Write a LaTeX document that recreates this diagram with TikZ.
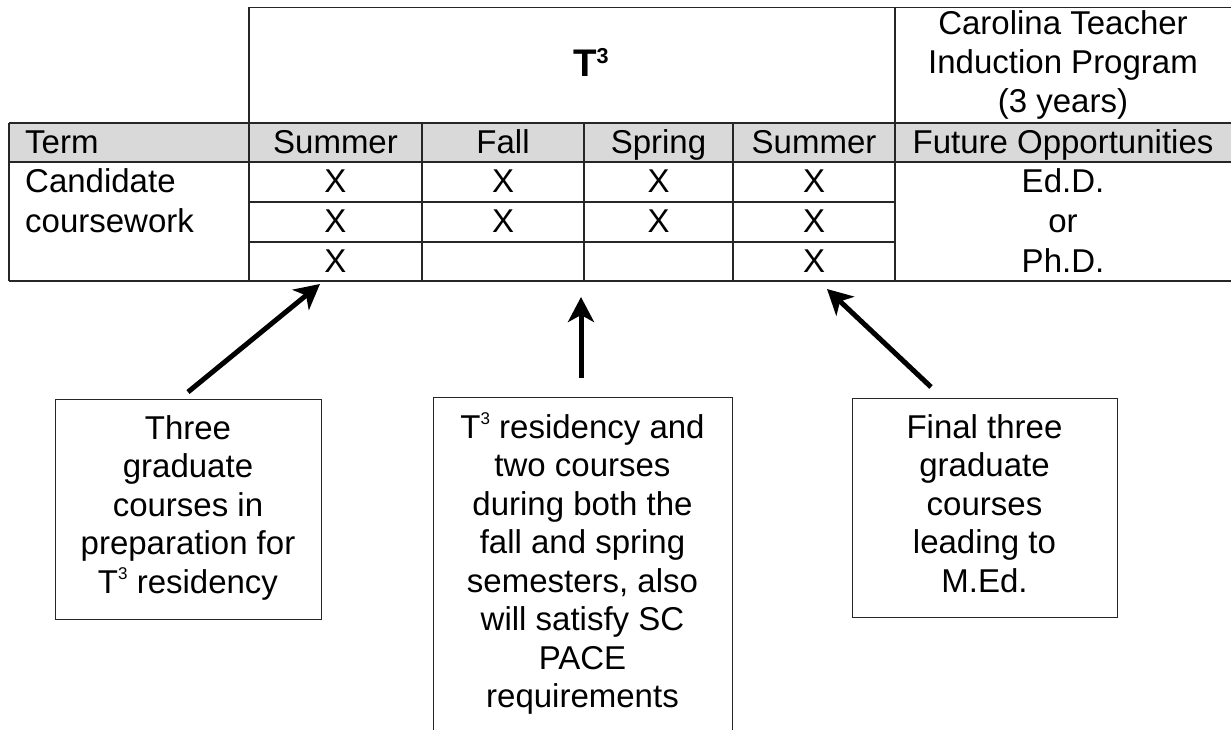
\documentclass[tikz,border=0pt]{standalone}
\usepackage{fontspec}
\setmainfont{Liberation Sans}
\usetikzlibrary{arrows.meta}
\definecolor{hdrgray}{RGB}{217,217,217}
\newcommand\mainsz{\fontsize{33pt}{38.5pt}\selectfont}
\newcommand\bigsz{\fontsize{38.5pt}{44pt}\selectfont\bfseries}
\newcommand\supthree[2]{\raisebox{#2}{\fontsize{#1}{#1}\selectfont 3}}
\begin{document}
\begin{tikzpicture}[x=1pt,y=-1pt,
  grid/.style={line width=1.3pt, draw=black!85},
  cell/.style={anchor=base, inner sep=0pt, font=\mainsz},
  lcell/.style={anchor=base west, inner sep=0pt, font=\mainsz},
  note/.style={draw=black!85, line width=1.3pt, inner sep=0pt, anchor=north west},
  notetext/.style={align=center, inner sep=0pt, anchor=north, font=\mainsz},
  pointer/.style={line width=5pt, -{Stealth[length=25pt,width=26pt,inset=7pt]}}]
\useasboundingbox (0,0) rectangle (1231,730);
% header fill
\fill[hdrgray] (9,123) rectangle (1231,162);
% grid lines
\draw[grid] (249,7.5) -- (1231,7.5);
\draw[grid] (9,123) -- (1231,123);
\draw[grid] (9,162) -- (1231,162);
\draw[grid] (249,202) -- (895,202);
\draw[grid] (249,242) -- (895,242);
\draw[grid] (9,281) -- (1231,281);
\draw[grid] (9,123) -- (9,281);
\draw[grid] (249,7.5) -- (249,281);
\draw[grid] (895,7.5) -- (895,281);
\draw[grid] (422,123) -- (422,281);
\draw[grid] (584,123) -- (584,281);
\draw[grid] (733,123) -- (733,281);
% top headers
\node[anchor=base west, inner sep=0pt, font=\bigsz] (tthree) at (573,77) {T\supthree{21.6pt}{13.5pt}};
\node[cell] (ctip1) at (1063,35) {Carolina Teacher};
\node[cell] (ctip2) at (1063,74) {Induction Program};
\node[cell] (ctip3) at (1063,113) {(3 years)};
% header row
\node[lcell] (term) at (25,154) {Term};
\node[cell] (h1) at (335.5,154) {Summer};
\node[cell] (h2) at (503,154) {Fall};
\node[cell] (h3) at (658.5,154) {Spring};
\node[cell] (h4) at (814,154) {Summer};
\node[cell] (h5) at (1063,154) {Future Opportunities};
% first column
\node[lcell] (cand1) at (25,193) {Candidate};
\node[lcell] (cand2) at (25,232.5) {coursework};
% X marks
\node[cell] (x11) at (335.5,193) {X};
\node[cell] (x12) at (503,193) {X};
\node[cell] (x13) at (658.5,193) {X};
\node[cell] (x14) at (814,193) {X};
\node[cell] (x21) at (335.5,232.5) {X};
\node[cell] (x22) at (503,232.5) {X};
\node[cell] (x23) at (658.5,232.5) {X};
\node[cell] (x24) at (814,232.5) {X};
\node[cell] (x31) at (335.5,272) {X};
\node[cell] (x34) at (814,272) {X};
% future
\node[cell] (fo1) at (1063,193) {Ed.D.};
\node[cell] (fo2) at (1063,232.5) {or};
\node[cell] (fo3) at (1063,272) {Ph.D.};
% note boxes
\node[note, minimum width=266pt, minimum height=220pt] (lbox) at (55,399) {};
\node[notetext] (ltext) at (188,414) {\rule{0pt}{25pt}Three\\graduate\\courses in\\preparation for\\T\supthree{17pt}{14pt} residency};
\begin{scope}
\clip (0,0) rectangle (1231,730);
\node[note, minimum width=299pt, minimum height=350pt] (mbox) at (433,397) {};
\end{scope}
\node[notetext] (mtext) at (582.5,412) {\rule{0pt}{25pt}T\supthree{17pt}{14pt} residency and\\two courses\\during both the\\fall and spring\\semesters, also\\will satisfy SC\\PACE\\requirements};
\node[note, minimum width=265pt, minimum height=219pt] (rbox) at (852,398) {};
\node[notetext] (rtext) at (984.5,413) {\rule{0pt}{25pt}Final three\\graduate\\courses\\leading to\\M.Ed.};
% arrow ends
\coordinate (a1s) at (188,392);
\coordinate (a1e) at (320,284);
\coordinate (a2s) at (581,378);
\coordinate (a2e) at (581,297);
\coordinate (a3s) at (931,387);
\coordinate (a3e) at (827,289);
\draw[pointer] (a1s) -- (a1e);
\draw[pointer] (a2s) -- (a2e);
\draw[pointer] (a3s) -- (a3e);
\end{tikzpicture}
\end{document}
